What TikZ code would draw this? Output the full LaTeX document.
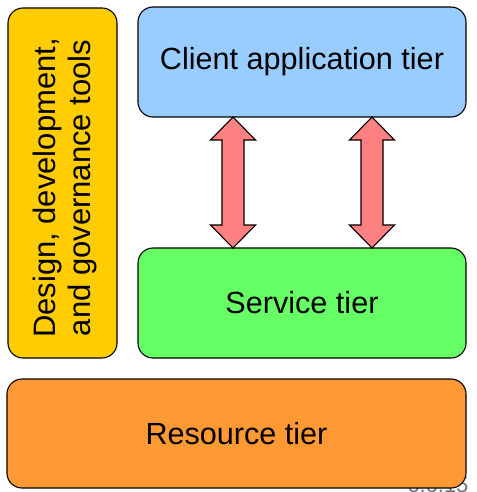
\documentclass[tikz,border=0pt]{standalone}
\usepackage{fontspec}
\setmainfont{Liberation Sans}
\usepackage{tikz}
\definecolor{toolsyellow}{RGB}{255,204,0}
\definecolor{clientblue}{RGB}{153,204,255}
\definecolor{servicegreen}{RGB}{102,255,102}
\definecolor{resourceorange}{RGB}{255,153,51}
\definecolor{arrowpink}{RGB}{255,128,128}
\definecolor{slidegray}{RGB}{110,118,135}
\tikzset{
  tier/.style={draw=black,line width=1.1pt,rounded corners=15pt,inner sep=0pt,
    font=\fontsize{30.6}{35}\selectfont},
  link/.style={draw=black,line width=1.1pt,fill=arrowpink,line join=miter}
}

\begin{document}
\begin{tikzpicture}
[x=1pt,y=-1pt]
\useasboundingbox (0,0) rectangle (476,492);
\node[text=slidegray,font=\fontsize{22}{26}\selectfont,anchor=base east] (slide) at (472,492) {6.6.15};
\node[tier,fill=toolsyellow,minimum width=109pt,minimum height=350pt] (tools) at (62.5,183) {};
\node[rotate=90,align=center,font=\fontsize{31}{35}\selectfont,inner sep=0pt] (toolstext) at (65,188) {Design, development,\\and governance tools};
\node[tier,fill=clientblue,minimum width=328pt,minimum height=110pt] (client) at (302,62) {Client application tier};
\node[tier,fill=servicegreen,minimum width=328pt,minimum height=110pt] (service) at (302,303) {Service tier};
\node[tier,fill=resourceorange,minimum width=459pt,minimum height=109pt] (resource) at (236.5,433.5) {Resource tier};
% double arrows between client and service tier
\foreach \x in {233,372}
  \draw[link] (\x,117) -- (\x+22.5,140) -- (\x+11,140) -- (\x+11,225) -- (\x+22.5,225)
    -- (\x,248) -- (\x-22.5,225) -- (\x-11,225) -- (\x-11,140) -- (\x-22.5,140) -- cycle;
\end{tikzpicture}
\end{document}
